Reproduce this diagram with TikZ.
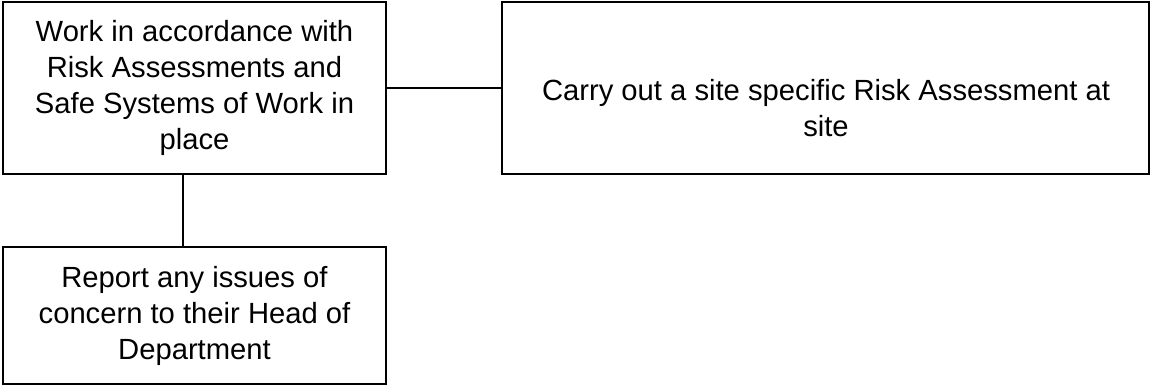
\documentclass[tikz,border=0pt]{standalone}
\usepackage{fontspec}
\setmainfont{Liberation Sans}
\begin{document}
\begin{tikzpicture}[x=1pt,y=-1pt,
  boxtext/.style={align=center, inner sep=0pt, font=\fontsize{29.2}{36}\selectfont},
  box/.style={boxtext, draw=black, line width=1.5pt, rectangle},
  conn/.style={draw=black, line width=1.5pt}]
\useasboundingbox (0,0) rectangle (1151,385);
\node[box, minimum width=383pt, minimum height=172pt] (A) at (194.5,88)
  {Work in accordance with\\Risk Assessments and\\Safe Systems of Work in\\place};
\node[box, minimum width=647pt, minimum height=172pt] (B) at (825.5,88) {};
\node[boxtext] (Bt) at (826,108) {Carry out a site specific Risk Assessment at\\site};
\node[box, minimum width=383pt, minimum height=137pt] (C) at (194.5,315.5)
  {Report any issues of\\concern to their Head of\\Department};
\draw[conn] (A.east) -- (B.west);
\draw[conn] ([xshift=-11.5pt]A.south) -- ([xshift=-11.5pt]C.north);
\end{tikzpicture}
\end{document}
